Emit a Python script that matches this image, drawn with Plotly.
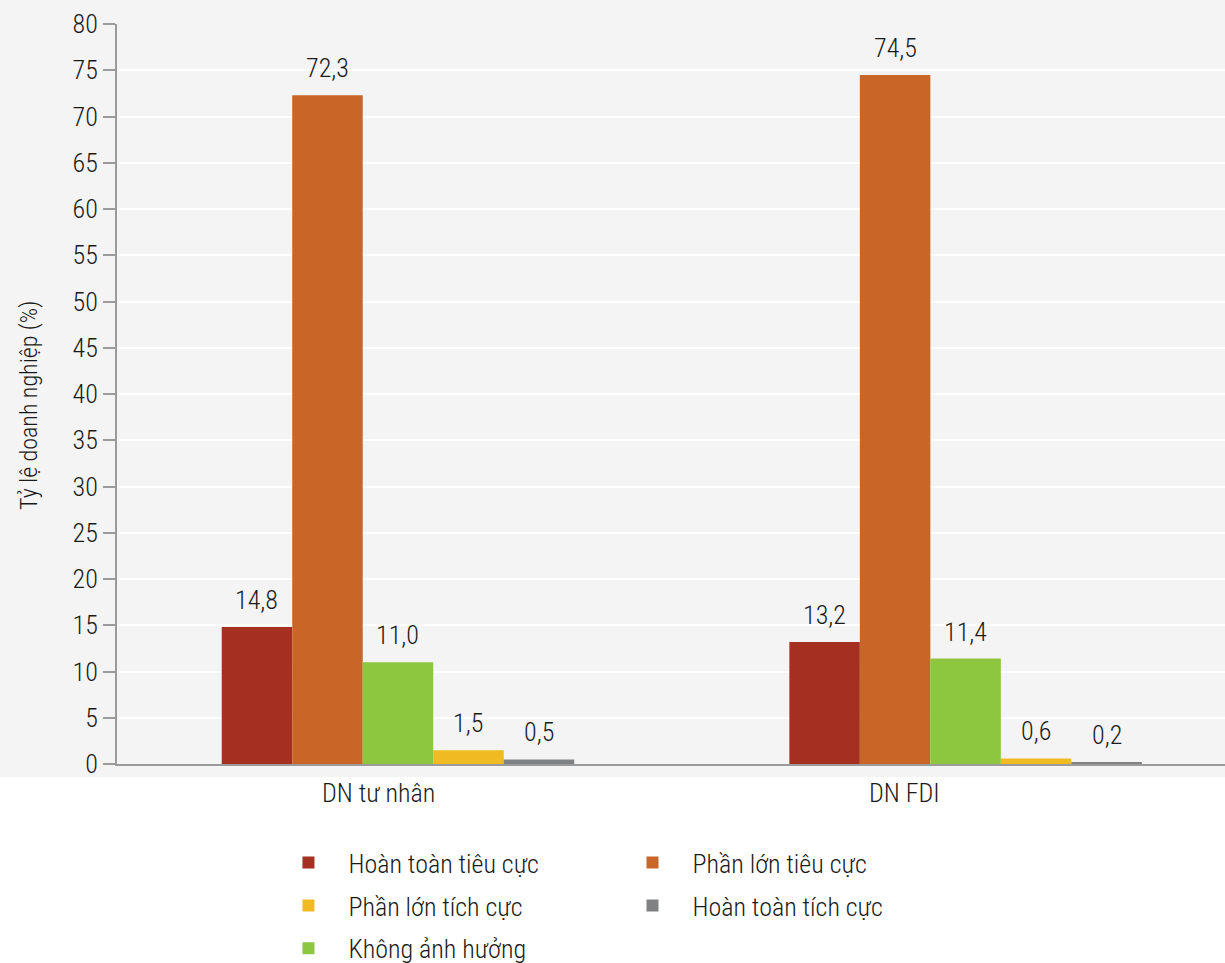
import plotly.graph_objects as go

# ---- data ----
categories = ["DN tư nhân", "DN FDI"]
series_names = ["Hoàn toàn tiêu cực", "Phần lớn tiêu cực", "Không ảnh hưởng",
                "Phần lớn tích cực", "Hoàn toàn tích cực"]
hoan_toan_tieu_cuc = [14.8, 13.2]
phan_lon_tieu_cuc = [72.3, 74.5]
khong_anh_huong = [11.0, 11.4]
phan_lon_tich_cuc = [1.5, 0.6]
hoan_toan_tich_cuc = [0.5, 0.2]
y_tick_values = list(range(0, 81, 5))

series_values = [hoan_toan_tieu_cuc, phan_lon_tieu_cuc, khong_anh_huong,
                 phan_lon_tich_cuc, hoan_toan_tich_cuc]

# ---- style ----
colors = ["#A52F20", "#C96627", "#8DC63F", "#F0BB22", "#7F8183"]
legend_ids = ["legend", "legend2", "legend", "legend", "legend2"]
legend_ranks = [1, 1, 3, 2, 2]
FONT = "Roboto Condensed, Liberation Sans Narrow, sans-serif"
BG = "#F4F4F4"
AXIS = "#9B9B9B"
TXT = "#1A1A1A"
BARGAP = 0.379
FW = 300

group_pos = list(range(len(categories)))
label_pos = [-0.034, 0.892]

fig = go.Figure()
for name, vals, col, lg, rk in zip(series_names, series_values, colors, legend_ids, legend_ranks):
    fig.add_trace(go.Bar(
        x=group_pos, y=vals, name=name,
        marker=dict(color=col, line=dict(width=0)),
        legend=lg, legendrank=rk, legendgroup=name,
        hovertemplate="%{y}<extra>" + name + "</extra>",
    ))

# value labels above bars (positions derived from bar layout)
n = len(series_names)
w = (1 - BARGAP) / n
annotations = []
for i, vals in enumerate(series_values):
    for j, v in enumerate(vals):
        annotations.append(dict(
            x=group_pos[j] + (i - (n - 1) / 2) * w, y=v, xref="x", yref="y",
            text=f"{v:.1f}".replace(".", ","), showarrow=False,
            yshift=27, font=dict(family=FONT, size=26, color=TXT, weight=FW),
        ))

annotations.append(dict(
    x=-0.0794, y=0.4838, xref="paper", yref="paper", xanchor="center", yanchor="middle",
    text="Tỷ lệ doanh nghiệp (%)", textangle=-90, showarrow=False,
    font=dict(family=FONT, size=24, color=TXT, weight=FW),
))

legend_common = dict(orientation="v", font=dict(family=FONT, size=26, color=TXT, weight=FW),
                     itemwidth=70, tracegroupgap=6, bgcolor="rgba(0,0,0,0)",
                     y=-0.1016, yanchor="top", xanchor="left")

fig.update_layout(
    width=1225, height=963,
    margin=dict(l=117, r=0, t=24, b=199, autoexpand=False),
    paper_bgcolor="white", plot_bgcolor=BG,
    font=dict(family=FONT, size=26, color=TXT, weight=FW),
    barmode="group", bargap=BARGAP, bargroupgap=0,
    annotations=annotations,
    shapes=[dict(type="rect", xref="paper", yref="paper",
                 x0=-0.11, x1=1.0, y0=-0.0176, y1=1.04,
                 fillcolor=BG, line=dict(width=0), layer="below")],
    xaxis=dict(
        range=[-0.495, 1.457], tickvals=label_pos, ticktext=categories,
        showgrid=False, zeroline=False, showline=True, linecolor=AXIS, linewidth=2,
        ticks="", ticklabelstandoff=5,
        tickfont=dict(family=FONT, size=26, color=TXT, weight=FW),
    ),
    yaxis=dict(
        range=[0, 80], tickvals=y_tick_values, showgrid=True, gridcolor="white",
        gridwidth=2, zeroline=False, showline=True, linecolor=AXIS, linewidth=2,
        ticks="outside", ticklen=12, tickwidth=2, tickcolor=AXIS,
        tickfont=dict(family=FONT, size=26, color=TXT, weight=FW),
    ),
    legend=dict(x=0.1367, **legend_common),
    legend2=dict(x=0.4472, **legend_common),
    showlegend=True,
)

fig.write_html(
    "out.html",
    config={"displayModeBar": False},
    post_script="document.body.style.margin='0';document.body.style.overflow='hidden';",
)
